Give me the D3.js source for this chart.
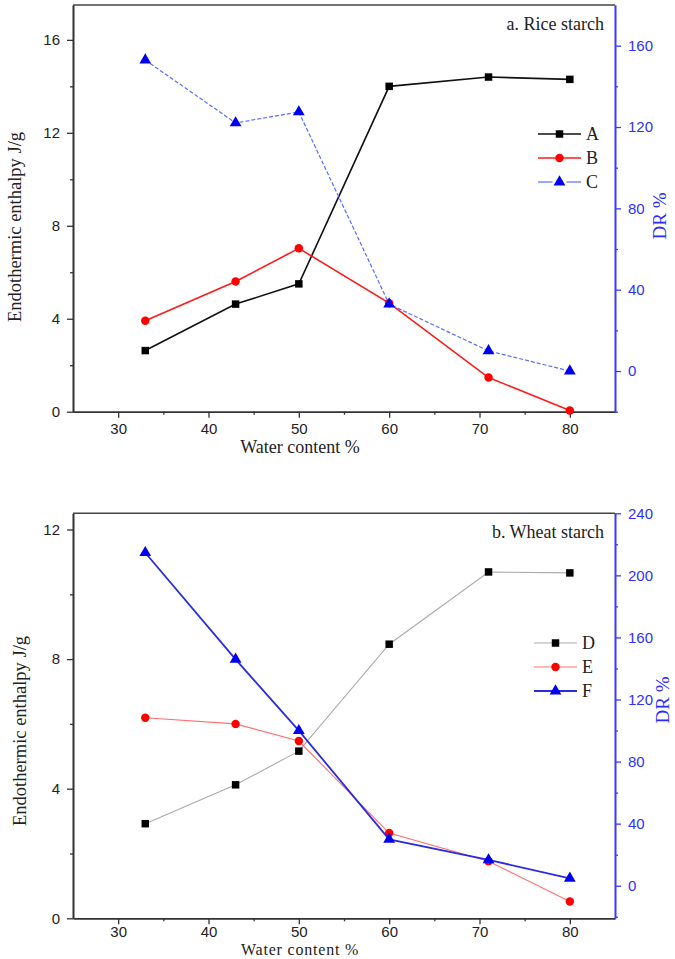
<!DOCTYPE html>
<html><head><meta charset="utf-8">
<script src="https://cdn.jsdelivr.net/npm/d3@7"></script>
<style>body{margin:0;background:#fff}svg{display:block}</style>
</head><body>
<svg id="c" width="675" height="959"></svg>
<script>
const water = [33, 43, 50, 60, 71, 80];
const xTicks = [30, 40, 50, 60, 70, 80];
const xMinor = [35, 45, 55, 65, 75];

// Panel a (rice starch)
const seriesA = [2.63, 4.63, 5.50, 14.0, 14.4, 14.3];
const seriesB = [3.91, 5.60, 7.03, 4.67, 1.47, 0.05];
const seriesC = [152.9, 122.0, 127.4, 32.9, 9.9, 0.0];
const aLeftTicks = [0, 4, 8, 12, 16];
const aLeftMinor = [2, 6, 10, 14];
const aRightTicks = [0, 40, 80, 120, 160];
const aRightMinor = [-20, 20, 60, 100, 140];

// Panel b (wheat starch)
const seriesD = [2.92, 4.12, 5.16, 8.46, 10.69, 10.66];
const seriesE = [6.19, 6.00, 5.47, 2.63, 1.76, 0.52];
const seriesF = [214.6, 145.9, 99.9, 29.9, 16.6, 4.8];
const bLeftTicks = [0, 4, 8, 12];
const bLeftMinor = [2, 6, 10];
const bRightTicks = [0, 40, 80, 120, 160, 200, 240];
const bRightMinor = [-20, 20, 60, 100, 140, 180, 220];

const svg = d3.select('#c');
const BLUE_AX = '#3a3aff';
const SERIF = '"Liberation Serif","Times New Roman",serif';
const SANS = '"Liberation Sans",Arial,sans-serif';

function symbolPath(type, size) {
  return d3.symbol().type(type).size(size)();
}

function panel(cfg) {
  const x = d3.scaleLinear().domain([25, 85]).range([73, 615]);
  const yl = d3.scaleLinear().domain(cfg.leftDomain).range([cfg.bottom, cfg.top]);
  const yr = d3.scaleLinear().domain(cfg.rightDomain).range([cfg.bottom, cfg.top]);
  const g = svg.append('g');

  // top border
  g.append('line').attr('x1', 73).attr('x2', 615).attr('y1', cfg.top).attr('y2', cfg.top)
    .attr('stroke', '#444').attr('stroke-width', 1.6);

  function styleAxis(sel, color, fontColor) {
    sel.selectAll('path').attr('stroke', color).attr('stroke-width', 1.6);
    sel.selectAll('line').attr('stroke', color).attr('stroke-width', 1.3);
    sel.selectAll('text').attr('fill', fontColor).style('font-family', SANS).style('font-size', '15px');
  }

  // x axis
  const xa = g.append('g').attr('transform', `translate(0,${cfg.bottom})`)
    .call(d3.axisBottom(x).tickValues(xTicks).tickSize(6).tickPadding(cfg.xPad).tickSizeOuter(0));
  styleAxis(xa, '#333', '#222');
  const xm = g.append('g').attr('transform', `translate(0,${cfg.bottom})`)
    .call(d3.axisBottom(x).tickValues(xMinor).tickSize(3).tickFormat('').tickSizeOuter(0));
  styleAxis(xm, '#333', '#222');

  // left axis
  const la = g.append('g').attr('transform', 'translate(73,0)')
    .call(d3.axisLeft(yl).tickValues(cfg.leftTicks).tickSize(6).tickPadding(7).tickSizeOuter(0));
  styleAxis(la, '#333', '#222');
  const lm = g.append('g').attr('transform', 'translate(73,0)')
    .call(d3.axisLeft(yl).tickValues(cfg.leftMinor).tickSize(3).tickFormat('').tickSizeOuter(0));
  styleAxis(lm, '#333', '#222');

  // right axis
  const ra = g.append('g').attr('transform', 'translate(615,0)')
    .call(d3.axisRight(yr).tickValues(cfg.rightTicks).tickSize(6).tickPadding(7).tickSizeOuter(0));
  styleAxis(ra, BLUE_AX, '#3030ff');
  const rm = g.append('g').attr('transform', 'translate(615,0)')
    .call(d3.axisRight(yr).tickValues(cfg.rightMinor).tickSize(3).tickFormat('').tickSizeOuter(0));
  styleAxis(rm, BLUE_AX, '#3030ff');

  // series
  cfg.series.forEach(s => {
    const y = s.axis === 'right' ? yr : yl;
    const line = d3.line().x((d, i) => x(water[i])).y(d => y(d));
    g.append('path').datum(s.values).attr('d', line).attr('fill', 'none')
      .attr('stroke', s.lineColor).attr('stroke-width', s.width)
      .attr('stroke-dasharray', s.dash || null);
    g.selectAll(null).data(s.values).enter().append('path')
      .attr('d', symbolPath(s.symbol, s.size))
      .attr('transform', (d, i) => `translate(${x(water[i])},${y(d)})`)
      .attr('fill', s.markColor);
  });

  // title
  g.append('text').attr('x', 604).attr('y', cfg.top + 25).attr('text-anchor', 'end')
    .style('font-family', SERIF).style('font-size', '18px').attr('fill', '#222').text(cfg.title);

  // legend
  cfg.series.forEach((s, i) => {
    const ly = cfg.legendY + i * cfg.legendStep;
    const x0 = cfg.legendX, x1 = cfg.legendX + 43, xm = (x0 + x1) / 2;
    if (s.legendGap) {
      g.append('line').attr('x1', x0).attr('x2', xm - 7).attr('y1', ly).attr('y2', ly)
        .attr('stroke', s.lineColor).attr('stroke-width', s.width);
      g.append('line').attr('x1', xm + 7).attr('x2', x1).attr('y1', ly).attr('y2', ly)
        .attr('stroke', s.lineColor).attr('stroke-width', s.width);
    } else {
      g.append('line').attr('x1', x0).attr('x2', x1).attr('y1', ly).attr('y2', ly)
        .attr('stroke', s.lineColor).attr('stroke-width', s.width);
    }
    g.append('path').attr('d', symbolPath(s.symbol, s.size))
      .attr('transform', `translate(${xm},${ly})`).attr('fill', s.markColor);
    g.append('text').attr('x', x1 + 5).attr('y', ly + 6)
      .style('font-family', SERIF).style('font-size', '18px').attr('fill', '#222').text(s.name);
  });

  // axis titles
  g.append('text').attr('x', 300).attr('y', cfg.bottom + cfg.xLabelOffset).attr('text-anchor', 'middle')
    .style('font-family', SERIF).style('font-size', cfg.xLabelSize)
    .style('letter-spacing', cfg.xLabelSpacing).attr('fill', '#222').text('Water content %');
  g.append('text').attr('transform', `translate(${cfg.leftLabelX},${cfg.leftLabelY}) rotate(-90)`)
    .attr('text-anchor', 'middle').style('font-family', SERIF).style('font-size', '18.5px')
    .attr('fill', '#222').text('Endothermic enthalpy J/g');
  g.append('text').attr('transform', `translate(${cfg.rightLabelX},${cfg.rightLabelY}) rotate(-90)`)
    .attr('text-anchor', 'middle').style('font-family', SERIF).style('font-size', '19px')
    .attr('fill', '#2a2aff').text('DR %');
}

panel({
  top: 5, bottom: 411.7,
  leftDomain: [0, 17.5], rightDomain: [-20, 180],
  leftTicks: aLeftTicks, leftMinor: aLeftMinor,
  rightTicks: aRightTicks, rightMinor: aRightMinor,
  title: 'a. Rice starch',
  legendX: 538, legendY: 134, legendStep: 24,
  leftLabelX: 21, leftLabelY: 227, rightLabelX: 666, rightLabelY: 216,
  xPad: 6, xLabelOffset: 41, xLabelSize: '18px', xLabelSpacing: '0px',
  series: [
    {name: 'A', values: seriesA, axis: 'left', lineColor: '#111', markColor: '#000', width: 1.6, symbol: d3.symbolSquare, size: 56},
    {name: 'B', values: seriesB, axis: 'left', lineColor: '#ff1a1a', markColor: '#ff0000', width: 1.6, symbol: d3.symbolCircle, size: 56},
    {name: 'C', values: seriesC, axis: 'right', lineColor: '#5a6cff', markColor: '#0000ee', width: 1.2, dash: '4,2', legendGap: true, symbol: d3.symbolTriangle, size: 60}
  ]
});

panel({
  top: 513.3, bottom: 918.3,
  leftDomain: [0, 12.5], rightDomain: [-21, 240],
  leftTicks: bLeftTicks, leftMinor: bLeftMinor,
  rightTicks: bRightTicks, rightMinor: bRightMinor,
  title: 'b. Wheat starch',
  legendX: 534, legendY: 643, legendStep: 24,
  leftLabelX: 26, leftLabelY: 731, rightLabelX: 669, rightLabelY: 700,
  xPad: 2, xLabelOffset: 37, xLabelSize: '16px', xLabelSpacing: '0.8px',
  series: [
    {name: 'D', values: seriesD, axis: 'left', lineColor: '#aaaaaa', markColor: '#000', width: 1.1, symbol: d3.symbolSquare, size: 56},
    {name: 'E', values: seriesE, axis: 'left', lineColor: '#ff7070', markColor: '#ff0000', width: 1.1, symbol: d3.symbolCircle, size: 56},
    {name: 'F', values: seriesF, axis: 'right', lineColor: '#2b2be0', markColor: '#0000ee', width: 1.8, symbol: d3.symbolTriangle, size: 60}
  ]
});
</script>
</body></html>
